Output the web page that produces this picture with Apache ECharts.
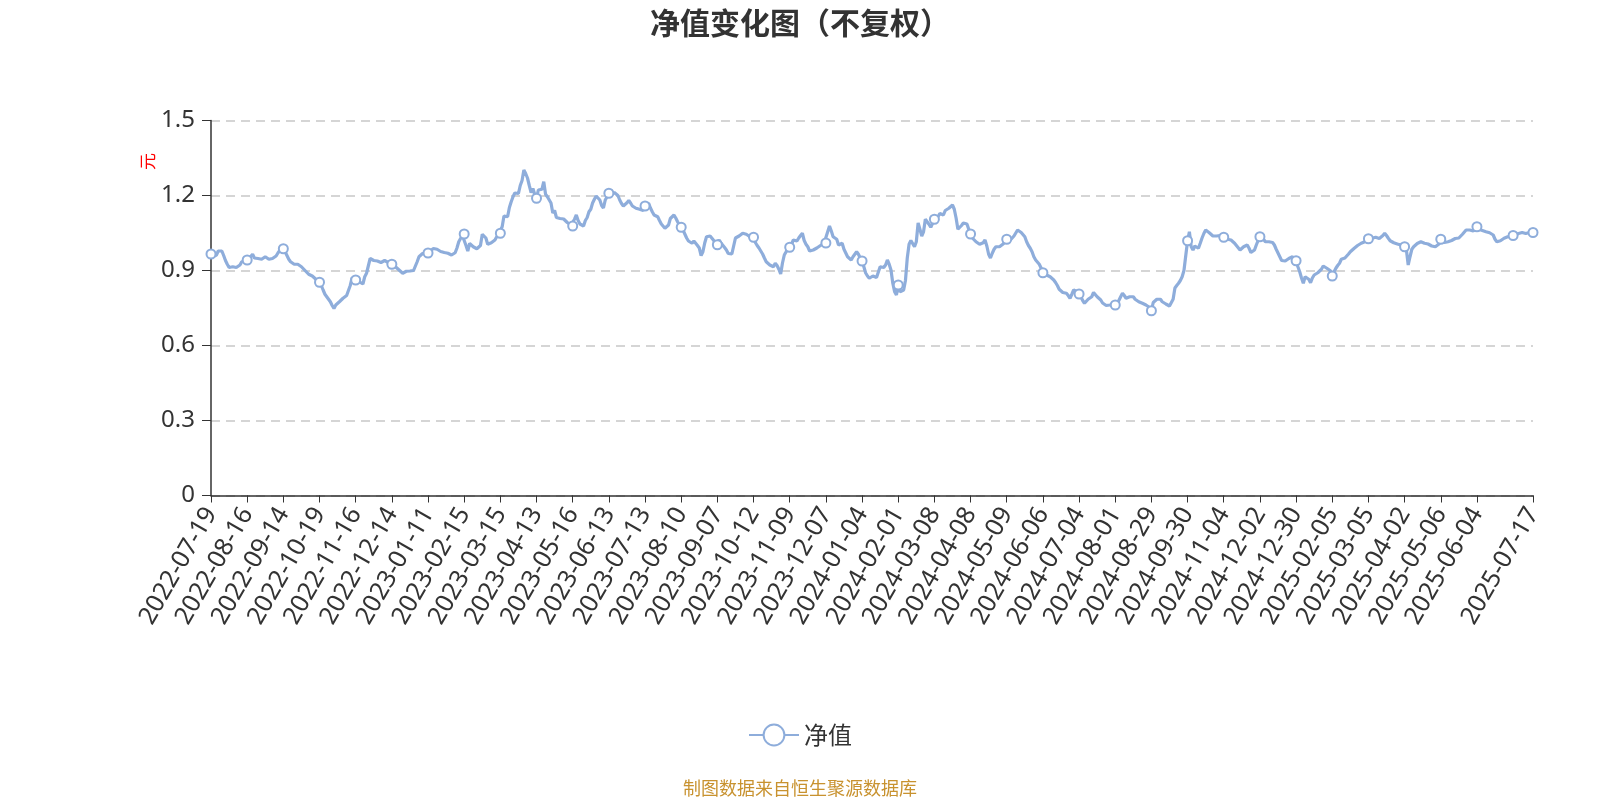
<!DOCTYPE html>
<html>
<head>
<meta charset="utf-8">
<script src="https://cdn.jsdelivr.net/npm/echarts@6/dist/echarts.min.js"></script>
<style>html,body{margin:0;padding:0;background:#fff;}#c{width:1600px;height:800px;}</style>
</head>
<body>
<div id="c"></div>
<script>
// tick label dates (trading-day index -> date); every 20th trading day, plus last day
const anchorIdx = [0,20,40,60,80,100,120,140,160,180,200,220,240,260,280,300,320,340,360,380,400,420,440,460,480,500,520,540,560,580,600,620,640,660,680,700,720,731];
const anchorDates = ['2022-07-19','2022-08-16','2022-09-14','2022-10-19','2022-11-16','2022-12-14','2023-01-11','2023-02-15','2023-03-15','2023-04-13','2023-05-16','2023-06-13','2023-07-13','2023-08-10','2023-09-07','2023-10-12','2023-11-09','2023-12-07','2024-01-04','2024-02-01','2024-03-08','2024-04-08','2024-05-09','2024-06-06','2024-07-04','2024-08-01','2024-08-29','2024-09-30','2024-11-04','2024-12-02','2024-12-30','2025-02-05','2025-03-05','2025-04-02','2025-05-06','2025-06-04','2025-07-02','2025-07-17'];

// NAV values (元)
const navBlock1 = [.966,.955,.950,.962,.978,.980,.978,.960,.940,.925,
.912,.905,.915,.910,.912,.918,.922,.935,.942,.938,
.942,.948,.955,.965,.950,.942,.948,.950,.945,.942,
.955,.950,.945,.952,.948,.955,.958,.970,.980,.985,
.987,.975,.960,.945,.935,.930,.925,.922,.925,.920,
.915,.908,.900,.898,.885,.882,.878,.872,.865,.855,
.853];
const navBlock2 = [.840,.822,.805,.795,.785,.775,.760,.748,.762,.765,
.775,.780,.789,.795,.800,.808,.840,.870,.878,.862,
.858,.855,.850,.846,.875,.889,.895,.948,.945,.940,
.935,.938,.940,.932,.930,.940,.945,.932,.928,.925,
.920,.915,.910,.902,.898,.889,.892,.897,.898,.898,
.900,.900,.902,.935,.955,.962,.968,.968,.969,.970,
.978,.985,.988,.989];
const navBlock3 = [.985,.980,.976,.974,.972,.971,.969,.966,.962,.966,
.971,.990,1.015,1.028,1.040,1.046,1.000,.978,1.008,1.005,
.995,.990,.987,.992,1.000,1.045,1.048,1.030,1.005,1.008,
1.011,1.015,1.022,1.035,1.047,1.049,1.075,1.118,1.118,1.115,
1.152,1.175,1.195,1.210,1.212,1.208,1.240,1.260,1.302,1.288,
1.270,1.240,1.212,1.228,1.205,1.189,1.222,1.224,1.225,1.255,
1.205,1.195,1.188,1.170,1.130];
const navBlock4 = [1.140,1.112,1.115,1.108,1.102,1.106,1.109,1.092,1.088,1.082,
1.078,1.105,1.122,1.100,1.086,1.080,1.078,1.100,1.112,1.135,
1.145,1.170,1.185,1.198,1.192,1.182,1.160,1.150,1.182,1.195,
1.209,1.200,1.198,1.212,1.220,1.200,1.182,1.168,1.158,1.165,
1.171,1.180,1.170,1.158,1.152,1.149,1.146,1.145,1.142,1.140,
1.158,1.165,1.169,1.150,1.135,1.122,1.118,1.115,1.100,1.086,
1.078,1.069,1.072,1.082,1.108];
const navBlock5 = [1.115,1.122,1.110,1.095,1.082,1.073,1.062,1.055,1.030,1.018,
1.015,1.009,1.018,1.025,1.000,.990,.960,.975,1.010,1.035,
1.042,1.038,1.030,1.020,1.005,1.003,1.022,1.010,1.002,.992,
.982,.968,.962,.966,.970,1.030,1.035,1.038,1.045,1.049,
1.053,1.045,1.038,1.035,1.033,1.033,1.012,1.000,.990,.978,
.966,.950,.935,.928,.922,.918,.915,.929,.920,.905,
.886,.930,.962,.975,.990,.993];
const navBlock6 = [1.005,1.022,1.029,1.018,1.030,1.040,1.049,1.020,1.005,.995,
.978,.980,.982,.979,.990,.995,1.000,1.005,1.009,1.010,
1.055,1.078,1.058,1.035,1.030,1.025,1.002,1.008,1.009,.985,
.970,.955,.948,.942,.955,.965,.975,.965,.950,.938,
.915,.890,.878,.869,.875,.878,.876,.872,.869,.915,
.909,.912,.922,.942,.925,.902,.849,.815,.802,.842,
.815,.820,.822,.860,.950];
const navBlock7 = [1.005,1.020,1.012,.995,1.015,1.090,1.065,1.038,1.055,1.105,
1.095,1.085,1.073,1.089,1.105,1.110,1.115,1.128,1.125,1.122,
1.140,1.145,1.149,1.155,1.162,1.145,1.110,1.065,1.070,1.080,
1.090,1.095,1.086,1.065,1.046,1.030,1.022,1.015,1.019,1.005,
1.002,1.011,1.022,.998,.965,.950,.969,.985,.995,1.002,
.995,1.000,1.006,1.015,1.025,1.029,1.022,1.019,1.038,1.050,
1.062,1.065,1.052,1.045,1.035];
const navBlock8 = [1.015,1.000,.989,.975,.955,.942,.935,.925,.910,.891,
.886,.882,.878,.875,.868,.862,.852,.840,.825,.820,
.812,.810,.809,.800,.789,.805,.822,.829,.815,.806,
.795,.780,.769,.771,.785,.789,.795,.812,.805,.795,
.788,.782,.770,.762,.760,.758,.762,.766,.765,.762,
.770,.780,.795,.809,.800,.789,.792,.795,.795,.795,
.785,.780,.775,.772,.769];
const navBlock9 = [.766,.762,.758,.752,.739,.772,.780,.785,.793,.785,
.775,.770,.766,.760,.758,.762,.785,.830,.840,.849,
.860,.875,.900,.960,1.019,1.055,.995,.982,.998,.992,
.989,1.009,1.030,1.048,1.062,1.055,1.051,1.045,1.038,1.040,
1.038,1.042,1.040,1.035,1.033,1.030,1.025,1.024,1.022,1.015,
1.009,1.000,.995,.982,.988,.995,1.000,1.002,.989,.972,
.969,.982,1.002,1.020,1.035,1.046];
const navBlock10 = [1.025,1.015,1.011,1.015,1.019,1.012,1.002,.985,.970,.955,
.940,.935,.938,.942,.948,.953,.955,.955,.939,.915,
.895,.870,.849,.875,.872,.865,.851,.870,.882,.888,
.891,.899,.905,.918,.912,.909,.902,.899,.878,.895,
.909,.920,.929,.945,.949,.950,.958,.966,.975,.982,
.988,.995,1.000,1.002,1.009,1.012,1.015,1.020,1.027,1.028,
1.029,1.031,1.033,1.030,1.028];
const navBlock11 = [1.033,1.040,1.049,1.040,1.029,1.019,1.015,1.011,1.008,1.006,
1.003,1.002,.998,.995,.982,.922,.955,.985,.995,1.002,
1.008,1.012,1.015,1.012,1.009,1.008,1.006,1.000,.998,.996,
.995,1.000,1.006,1.025,1.018,1.012,1.009,1.015,1.019,1.020,
1.025,1.028,1.025,1.030,1.033,1.045,1.052,1.062,1.065,1.062,
1.055,1.058,1.068,1.075,1.065,1.062,1.060,1.058,1.055,1.055,
1.051,1.048,1.042,1.025,1.015,1.009,1.019,1.025,1.029,1.030,
1.035,1.035];
const navBlock12 = [1.038,1.040,1.042,1.045,1.048,1.050,1.052,1.050,1.048,1.050,1.052,1.050,1.052];

const nav = [].concat(navBlock1,navBlock2,navBlock3,navBlock4,navBlock5,navBlock6,navBlock7,navBlock8,navBlock9,navBlock10,navBlock11,navBlock12);

// category dates: anchor dates, with weekdays stepped in between
function buildDates(){
  const out = [];
  for (let k = 0; k < anchorIdx.length; k++) {
    const start = anchorIdx[k];
    const end = k + 1 < anchorIdx.length ? anchorIdx[k+1] : start + 1;
    const d = new Date(anchorDates[k] + 'T00:00:00Z');
    out[start] = anchorDates[k];
    for (let i = start + 1; i < end; i++) {
      do { d.setUTCDate(d.getUTCDate() + 1); } while (d.getUTCDay() === 0 || d.getUTCDay() === 6);
      out[i] = d.toISOString().slice(0, 10);
    }
  }
  return out;
}
const dates = buildDates();

const lineColor = '#8eaddb';
const chart = echarts.init(document.getElementById('c'));
chart.setOption({
  animation: false,
  textStyle: {fontFamily: '"Noto Sans", "Noto Sans CJK SC", sans-serif'},
  title: [
    {text: '净值变化图（不复权）', left: 'center', top: 3,
     textStyle: {fontSize: 30, fontWeight: 'bold', color: '#333', fontFamily: '"Noto Sans CJK SC", sans-serif'}},
    {text: '制图数据来自恒生聚源数据库', left: 'center', top: 774,
     textStyle: {fontSize: 18, fontWeight: 'normal', color: '#c8922f', fontFamily: '"Noto Sans CJK SC", sans-serif'}}
  ],
  legend: {data: ['净值'], bottom: 48, itemWidth: 50, itemHeight: 26, itemGap: 10,
           textStyle: {fontSize: 24, color: '#333', fontFamily: '"Noto Sans CJK SC", sans-serif'}},
  grid: {left: 211, right: 67, top: 120.5, bottom: 304.5},
  xAxis: {
    type: 'category', data: dates, boundaryGap: false,
    axisLine: {lineStyle: {color: '#333', width: 1.5}},
    axisTick: {show: true, length: 7},
    axisLabel: {interval: 19, rotate: 60, fontSize: 25, color: '#333', showMaxLabel: true, margin: 14}
  },
  yAxis: {
    type: 'value', min: 0, max: 1.5, interval: 0.3,
    name: '元', nameLocation: 'middle', nameGap: 55, nameMoveOverlap: false,
    nameTextStyle: {color: 'red', fontSize: 17, padding: [0, 0, 0, 293], fontFamily: '"Noto Sans CJK SC", sans-serif'},
    axisLine: {show: true, lineStyle: {color: '#333', width: 1.5}},
    axisTick: {show: true, length: 9},
    axisLabel: {fontSize: 24, color: '#333', margin: 16},
    splitLine: {lineStyle: {type: [9, 6], width: 1.5, color: '#c8c8c8'}}
  },
  series: [{
    name: '净值', type: 'line', data: nav,
    symbol: 'emptyCircle', symbolSize: 9,
    lineStyle: {width: 3.2, color: lineColor},
    itemStyle: {color: lineColor, borderWidth: 1.5}
  }]
});
</script>
</body>
</html>
